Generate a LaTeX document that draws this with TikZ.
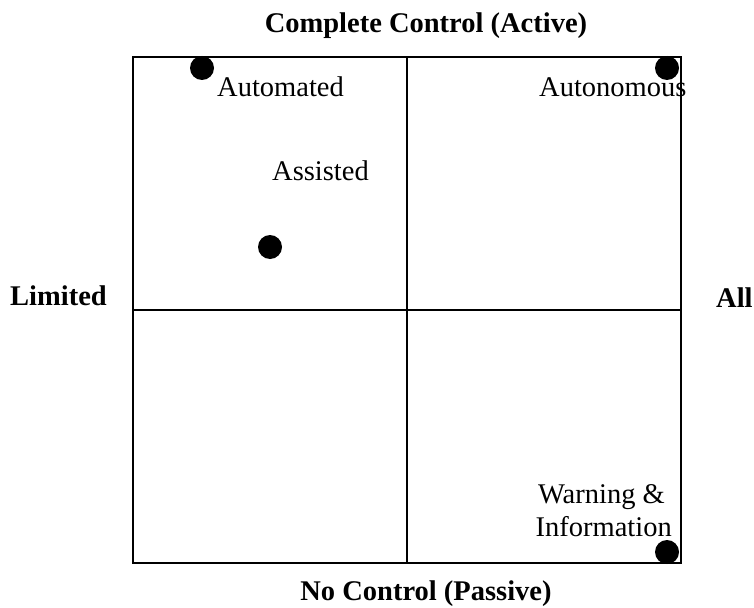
\documentclass[tikz,border=0pt]{standalone}
\usepackage{fontspec}
\setmainfont{Liberation Serif}
\begin{document}
\begin{tikzpicture}[x=1pt,y=-1pt,
  txt/.style={inner sep=0pt,font=\fontsize{28.5}{33}\selectfont},
  axis/.style={txt,font=\fontsize{28.5}{33}\selectfont\bfseries},
  dot/.style={circle,fill=black,inner sep=0pt,minimum size=24pt},
  frame/.style={draw=black,line width=1.5pt,inner sep=0pt,minimum width=548pt,minimum height=506pt},
  divider/.style={draw=black,line width=1.5pt}]
\useasboundingbox (0,0) rectangle (754,607);
\node[frame] (box) at (407,310) {};
\draw[divider] (box.north) -- (box.south);
\draw[divider] (box.west) -- (box.east);
\node[axis,anchor=base] (top) at (426,33) {Complete Control (Active)};
\node[axis,anchor=base] (bottom) at (426,600) {No Control (Passive)};
\node[axis,anchor=base west] (lim) at (10,305) {Limited};
\node[axis,anchor=base west] (all) at (716,307) {All};
\node[txt,anchor=base west] (auto) at (217,97) {Automated};
\node[txt,anchor=base west] (auton) at (539,97) {Autonomous};
\node[txt,anchor=base west] (assist) at (272,180) {Assisted};
\node[txt,anchor=base east] (warn) at (665,503) {Warning \&};
\node[txt,anchor=base east] (info) at (672,536) {Information};
\node[dot] (d1) at (202,68) {};
\node[dot] (d2) at (667,68) {};
\node[dot] (d3) at (270,247) {};
\node[dot] (d4) at (667,552) {};
\end{tikzpicture}
\end{document}
